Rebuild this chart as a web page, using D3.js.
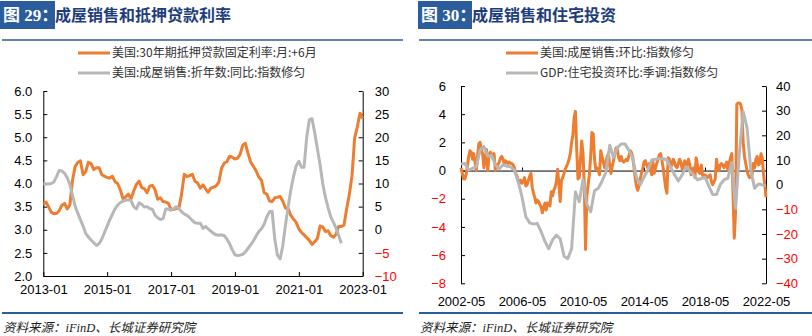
<!DOCTYPE html>
<html><head><meta charset="utf-8">
<script src="https://cdn.jsdelivr.net/npm/d3@7"></script>
<style>
html,body{margin:0;padding:0;background:#fff;}
svg{display:block;}
</style></head>
<body>
<svg id="c" width="812" height="336"></svg>
<script>
// ---------------- DATA ----------------
// Left chart (图29)
const leftTitleNo = "图 29：";
const leftTitle = "成屋销售和抵押贷款利率";
const leftLegend = ["美国:30年期抵押贷款固定利率:月:+6月", "美国:成屋销售:折年数:同比:指数修匀"];
const leftStart = "2013-01";   // first month of both series
const leftRate = [3.55,3.60,3.50,3.38,3.35,3.35,
 3.41,3.53,3.57,3.45,3.54,4.07,4.37,4.46,4.49,4.19,4.26,4.46,
 4.43,4.30,4.34,4.34,4.19,4.16,4.13,4.12,4.16,4.04,4.00,3.86,
 3.67,3.71,3.77,3.67,3.84,3.98,4.05,3.91,3.89,3.80,3.94,3.96,
 3.87,3.66,3.69,3.61,3.60,3.57,3.44,3.44,3.46,3.47,3.77,4.20,
 4.15,4.17,4.20,4.05,4.01,3.90,3.97,3.88,3.81,3.90,3.92,3.95,
 4.03,4.33,4.44,4.47,4.59,4.57,4.53,4.55,4.63,4.83,4.87,4.64,
 4.46,4.37,4.27,4.14,4.07,3.80,3.77,3.62,3.61,3.69,3.70,3.72,
 3.62,3.47,3.45,3.31,3.23,3.16,3.02,2.94,2.89,2.83,2.77,2.68,
 2.74,2.81,3.08,3.06,2.96,2.98,2.87,2.84,2.90,3.07,3.07,3.10,
 3.45,3.76,4.17,4.98,5.23,5.52,5.41];
const leftSales = [10.0,9.9,9.9,10.0,10.3,11.5,12.8,12.7,12.2,11.3,9.8,7.5,
 5.0,3.5,2.2,0.8,-0.8,-1.6,-2.2,-2.8,-3.4,-3.0,-2.0,-0.6,
 0.8,2.2,3.3,4.5,5.3,5.9,6.2,6.4,6.5,6.3,5.0,4.5,
 5.8,5.5,4.9,5.0,4.6,4.4,3.2,2.6,2.2,2.4,4.5,4.5,
 4.2,4.6,5.0,4.6,3.9,3.4,3.1,2.6,2.0,1.5,1.4,1.4,
 0.3,0.7,0.2,-0.3,-0.8,-1.1,-1.2,-1.1,-1.3,-2.0,-3.0,-4.3,
 -5.4,-5.6,-5.5,-5.3,-4.8,-4.0,-3.2,-2.4,-1.3,-0.4,0.2,1.2,
 2.8,3.9,4.0,-2.0,-5.5,-6.3,-3.5,1.0,5.0,8.6,11.5,13.8,
 14.8,13.5,13.5,20.0,23.8,24.0,21.0,17.5,14.0,10.0,7.0,4.8,
 2.8,1.6,0.4,-1.2,-2.9];
const leftXTicks = ["2013-01","2015-01","2017-01","2019-01","2021-01","2023-01"];
const leftYTicks = [2.0,2.5,3.0,3.5,4.0,4.5,5.0,5.5,6.0];
const leftY2Ticks = [-10,-5,0,5,10,15,20,25,30];

// Right chart (图30)
const rightTitleNo = "图 30：";
const rightTitle = "成屋销售和住宅投资";
const rightLegend = ["美国:成屋销售:环比:指数修匀", "GDP:住宅投资环比:季调:指数修匀"];
const rightStart = "2002-05";
const rightSalesMoM = [0.2,-0.2,-0.6,-0.6,-0.3,0.3,1.0,1.4,1.3,0.8,1.2,0.6,
 0.0,1.0,1.9,2.0,1.5,1.2,0.2,0.8,1.5,0.0,1.1,1.3,
 1.2,1.0,1.2,0.0,0.4,0.4,0.6,0.9,1.0,0.8,0.5,0.7,
 0.6,0.5,0.6,0.5,0.5,0.4,0.2,-0.2,-0.4,-0.7,-0.9,-0.7,
 -0.9,-0.8,-0.5,-1.1,-1.0,-0.7,-0.4,-0.2,-1.2,-1.6,-1.9,-2.3,
 -2.1,-2.2,-2.4,-2.6,-3.0,-2.6,-2.3,-2.8,-2.3,-2.4,-2.5,-1.5,
 -1.8,-1.4,-1.2,-0.8,0.1,-1.0,-2.2,-0.7,-0.5,-0.2,0.1,0.3,
 0.5,0.8,1.2,2.0,2.5,3.8,4.2,1.5,-0.6,-0.5,0.8,2.1,
 1.2,-1.0,-5.6,-1.8,-1.0,-0.3,1.0,2.7,2.6,0.8,0.1,0.2,
 0.0,-0.3,1.4,1.0,0.6,0.2,0.5,1.0,1.2,0.3,-0.2,0.3,
 0.7,1.2,1.6,1.5,0.9,0.7,1.0,0.7,0.6,0.7,0.8,0.7,
 1.0,1.4,1.3,1.0,0.3,-0.5,-1.1,-1.4,-1.1,-0.6,-0.2,0.1,
 0.6,0.7,0.4,0.2,0.5,0.1,-0.3,0.6,-0.2,0.2,0.5,0.8,
 1.1,1.2,0.8,0.2,-0.5,-1.2,-1.6,0.9,0.8,0.3,0.4,0.8,
 0.6,0.3,0.2,0.5,0.8,0.6,0.1,0.3,0.7,0.1,0.5,0.8,
 0.4,-0.3,0.1,0.2,-0.5,0.9,0.4,-0.1,-0.2,0.4,-0.3,-0.5,
 -0.3,-0.4,-0.5,-0.4,-0.3,-0.8,-1.0,-0.8,-0.6,0.8,0.1,0.0,
 0.4,0.5,0.4,0.2,0.4,0.6,0.0,0.5,0.9,1.2,-1.5,-4.8,
 -3.0,4.7,4.8,4.8,4.7,4.3,2.0,1.0,0.5,0.0,-0.3,-0.5,
 -0.4,-0.3,0.5,0.2,0.8,1.0,0.4,0.5,1.2,0.9,-0.2,-1.0,
 -1.9];
const rightResInv = [8.4,8.6,5.9,6.6,7.3,14,15.5,11.5,11.8,8,6.5,8,
 7.5,7.2,5.9,1,-5,-13,-15.5,-16,-15.7,-19,-23,-26,
 -22.4,-20.5,-22,-29,-30,-26,-3,-6.9,2,-8,-11,-2.5,
 -1.5,1.5,5,16,11,15,16.5,16.5,14,11,3,0,
 3,6,10,10.3,10.5,10.5,10,7,4,1.5,4,7.3,
 5.5,4,2,2.5,3,-0.5,-4,-4,0,2,2.6,9,
 -9.6,12.7,29.6,23,6,-1.5,0.3,-0.1,-0.3];
const rightXTicks = ["2002-05","2006-05","2010-05","2014-05","2018-05","2022-05"];
const rightYTicks = [-8,-6,-4,-2,0,2,4,6];
const rightY2Ticks = [-40,-30,-20,-10,0,10,20,30,40];

const source = "资料来源：iFinD、长城证券研究院";

// ---------------- DRAW ----------------
const svg = d3.select("#c");
const parseM = d3.timeParse("%Y-%m");
const fmtM = d3.timeFormat("%Y-%m");
const BLUE = "#2B5C9B", TITLE = "#1E3D7B", ORANGE = "#ED7D31", GREY = "#B7B7B7", RED = "#FF0000";
const tickFont = "'Liberation Sans', Arial, sans-serif";
const cjk = "'Noto Sans CJK SC', 'Liberation Sans', sans-serif";

function monthlyDates(start, n, step) {
  const s = parseM(start);
  return d3.range(n).map(i => d3.timeMonth.offset(s, i * step));
}

function header(g, x0, x1, boxX, boxW, no, title, legend, legX) {
  g.append("rect").attr("x", boxX).attr("y", 1).attr("width", boxW).attr("height", 28).attr("fill", BLUE);
  g.append("text").attr("x", boxX + 3).attr("y", 21).attr("fill", "#fff")
    .attr("font-family", "'Liberation Serif', 'Noto Sans CJK SC', serif").attr("font-weight", "bold")
    .attr("font-size", 17).text(no);
  g.append("text").attr("x", boxX + boxW).attr("y", 21).attr("fill", TITLE)
    .attr("font-family", cjk).attr("font-weight", "bold").attr("font-size", 16).text(title);
  g.append("line").attr("x1", x0).attr("x2", x1).attr("y1", 40).attr("y2", 40)
    .attr("stroke", BLUE).attr("stroke-width", 1.5);
  [ORANGE, GREY].forEach((c, i) => {
    const y = 53 + 20 * i;
    g.append("line").attr("x1", legX).attr("x2", legX + 32).attr("y1", y).attr("y2", y)
      .attr("stroke", c).attr("stroke-width", 3);
    g.append("text").attr("x", legX + 34).attr("y", y).attr("dy", "0.35em")
      .attr("font-family", cjk).attr("font-size", 12).attr("fill", "#333").text(legend[i]);
  });
  g.append("line").attr("x1", x0).attr("x2", x1).attr("y1", 313).attr("y2", 313)
    .attr("stroke", BLUE).attr("stroke-width", 2);
  g.append("text").attr("x", x0 + 1).attr("y", 332).attr("font-style", "italic")
    .attr("font-family", "'Liberation Serif', 'Noto Sans CJK SC', serif").attr("font-size", 12.5)
    .attr("fill", "#222").text(source);
}

function styleAxis(ax, colorFn) {
  ax.select(".domain").attr("stroke", "#000").attr("stroke-width", 1);
  ax.selectAll(".tick line").attr("stroke", "#000");
  ax.selectAll(".tick text").attr("font-family", tickFont).attr("font-size", 13)
    .attr("fill", d => colorFn ? colorFn(d) : "#000");
}

// ---------- Left chart ----------
(function () {
  const g = svg.append("g");
  header(g, 2, 403, 0, 55, leftTitleNo, leftTitle, leftLegend, 78);
  const L = 43.3, R = 362.7, T = 91, B = 276;
  const x = d3.scaleTime().domain([parseM(leftXTicks[0]), parseM(leftXTicks[leftXTicks.length - 1])]).range([L, R]);
  const y = d3.scaleLinear().domain([2, 6]).range([B, T]);
  const y2 = d3.scaleLinear().domain([-10, 30]).range([B, T]);

  const ax = g.append("g").attr("transform", `translate(0,${B})`)
    .call(d3.axisBottom(x).tickValues(leftXTicks.map(parseM)).tickFormat(fmtM).tickSizeInner(-4).tickSizeOuter(0).tickPadding(9));
  styleAxis(ax);
  const ayl = g.append("g").attr("transform", `translate(${L},0)`)
    .call(d3.axisLeft(y).tickValues(leftYTicks).tickFormat(d3.format(".1f")).tickSizeInner(-4).tickSizeOuter(0).tickPadding(11));
  styleAxis(ayl);
  const ayr = g.append("g").attr("transform", `translate(${R},0)`)
    .call(d3.axisRight(y2).tickValues(leftY2Ticks).tickSizeInner(-4).tickSizeOuter(0).tickPadding(12));
  styleAxis(ayr, d => d < 0 ? RED : "#000");

  const d1 = monthlyDates(leftStart, leftRate.length, 1);
  const d2 = monthlyDates(leftStart, leftSales.length, 1);
  g.append("path").datum(leftRate).attr("fill", "none").attr("stroke", ORANGE).attr("stroke-width", 3)
    .attr("stroke-linejoin", "round")
    .attr("d", d3.line().x((d, i) => x(d1[i])).y(d => y(d)));
  g.append("path").datum(leftSales).attr("fill", "none").attr("stroke", GREY).attr("stroke-width", 3)
    .attr("stroke-linejoin", "round")
    .attr("d", d3.line().x((d, i) => x(d2[i])).y(d => y2(d)));
})();

// ---------- Right chart ----------
(function () {
  const g = svg.append("g");
  header(g, 419, 812, 418, 54, rightTitleNo, rightTitle, rightLegend, 506);
  const L = 461, R = 766, T = 86, B = 283.3;
  const x = d3.scaleTime().domain([parseM(rightXTicks[0]), parseM(rightXTicks[rightXTicks.length - 1])]).range([L, R]);
  const y = d3.scaleLinear().domain([-8, 6]).range([B, T]);
  const y2 = d3.scaleLinear().domain([-40, 40]).range([B, T]);

  // zero axis line with inward ticks, labels at bottom
  const az = g.append("g").attr("transform", `translate(0,${y(0)})`)
    .call(d3.axisBottom(x).tickValues(rightXTicks.map(parseM)).tickFormat("").tickSizeInner(-3).tickSizeOuter(0));
  styleAxis(az);
  const ab = g.append("g").attr("transform", `translate(0,${B})`)
    .call(d3.axisBottom(x).tickValues(rightXTicks.map(parseM)).tickFormat(fmtM).tickSize(0).tickPadding(13));
  ab.select(".domain").remove();
  styleAxis(ab);
  const ayl = g.append("g").attr("transform", `translate(${L},0)`)
    .call(d3.axisLeft(y).tickValues(rightYTicks).tickSizeInner(-4).tickSizeOuter(0).tickPadding(15));
  styleAxis(ayl, d => d < 0 ? RED : "#000");
  const ayr = g.append("g").attr("transform", `translate(${R},0)`)
    .call(d3.axisRight(y2).tickValues(rightY2Ticks).tickSizeInner(-4).tickSizeOuter(0).tickPadding(10));
  styleAxis(ayr, d => d < 0 ? RED : "#000");

  const d1 = monthlyDates(rightStart, rightSalesMoM.length, 1);
  const d2 = monthlyDates(rightStart, rightResInv.length, 3);
  g.append("path").datum(rightSalesMoM).attr("fill", "none").attr("stroke", ORANGE).attr("stroke-width", 3)
    .attr("stroke-linejoin", "round")
    .attr("d", d3.line().x((d, i) => x(d1[i])).y(d => y(d)));
  g.append("path").datum(rightResInv).attr("fill", "none").attr("stroke", GREY).attr("stroke-width", 3)
    .attr("stroke-linejoin", "round")
    .attr("d", d3.line().x((d, i) => x(d2[i])).y(d => y2(d)));
})();
</script>
</body></html>
